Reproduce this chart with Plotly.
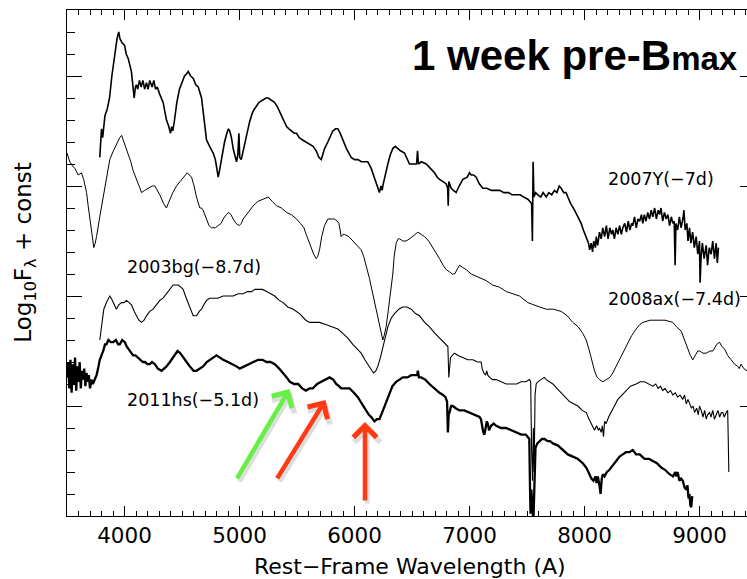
import plotly.graph_objects as go

# ---------------- data ----------------
wl_2007Y = [3785,3790,3800,3810,3830,3850,3870,3890,3913,3935,3950,3960,3980,4000,4015,4032,4060,4075,4084,4095,
            4104,4115,4130,4145,4160,4175,4191,4205,4220,4240,4255,4270,4285,4304,4320,4336,4350,4365,4385,4400,
            4410,4420,4435,4455,4478,4500,4522,4540,4554,4575,4597,4620,4641,4670,4690,4713,4740,4771,4790,4805,
            4815,4826,4850,4870,4890,4904,4915,4930,4945,4957,4974,4985,4995,5002,5015,5032,5060,5087,5110,5130,
            5170,5206,5230,5250,5280,5304,5330,5348,5380,5409,5430,5450,5475,5496,5520,5545,5574,5609,5640,5667,
            5690,5711,5725,5740,5768,5790,5811,5835,5855,5875,5898,5930,5971,6000,6029,6060,6090,6116,6145,6170,
            6189,6205,6217,6230,6240,6250,6270,6290,6310,6333,6355,6377,6400,6435,6455,6478,6510,6540,6548,6556,
            6580,6624,6660,6696,6720,6739,6770,6797,6810,6815,6820,6841,6860,6884,6910,6942,6980,7000,7015,7035,
            7058,7085,7116,7150,7190,7230,7261,7300,7340,7370,7406,7440,7470,7507,7525,7540,7547,7553,7560,7575,
            7594,7620,7640,7667,7690,7715,7739,7760,7780,7797,7820,7840,7855,7880,7913,7940,7971,7990,8015,8035,
            8045,8058,8070,8080,8095,8102,8115,8130,8145,8159,8175,8190,8205,8220,8235,8246,8260,8275,8290,8305,
            8320,8333,8350,8365,8380,8395,8410,8420,8435,8450,8465,8480,8495,8507,8520,8535,8550,8565,8580,8594,
            8610,8625,8640,8652,8665,8680,8695,8710,8725,8740,8755,8768,8780,8788,8795,8810,8825,8840,8855,8865,
            8875,8890,8900,8913,8925,8940,8955,8971,8985,9000,9005,9014,9025,9040,9058,9070,9085,9101,9115,9130,
            9145,9155,9165]
fl_2007Y = [1.63,1.70,1.76,1.72,1.82,1.85,1.90,2.00,2.10,2.17,2.20,2.17,2.15,2.14,2.10,2.08,2.02,1.96,1.90,1.95,
            1.96,1.94,1.98,1.95,1.98,1.94,1.97,1.94,1.98,1.95,1.98,1.94,1.95,1.92,1.90,1.88,1.84,1.80,1.77,1.74,
            1.77,1.75,1.80,1.88,1.94,1.97,2.00,2.01,2.02,2.00,1.99,1.96,1.95,1.90,1.80,1.71,1.68,1.65,1.62,1.58,
            1.54,1.57,1.65,1.70,1.74,1.76,1.75,1.72,1.67,1.64,1.61,1.64,1.74,1.63,1.62,1.66,1.73,1.79,1.83,1.85,
            1.88,1.89,1.90,1.90,1.89,1.88,1.86,1.84,1.80,1.77,1.76,1.75,1.74,1.74,1.72,1.71,1.70,1.69,1.68,1.66,
            1.63,1.62,1.65,1.67,1.70,1.73,1.75,1.76,1.76,1.74,1.71,1.67,1.63,1.62,1.62,1.61,1.61,1.61,1.58,1.54,
            1.51,1.49,1.47,1.50,1.48,1.51,1.56,1.60,1.64,1.67,1.68,1.67,1.66,1.65,1.63,1.60,1.60,1.60,1.66,1.60,
            1.61,1.60,1.58,1.56,1.54,1.53,1.52,1.51,1.49,1.41,1.52,1.49,1.48,1.47,1.50,1.53,1.54,1.56,1.55,1.55,
            1.54,1.51,1.49,1.49,1.48,1.48,1.48,1.47,1.47,1.46,1.46,1.46,1.45,1.44,1.43,1.42,1.25,1.61,1.45,1.47,
            1.46,1.45,1.47,1.45,1.47,1.46,1.48,1.47,1.50,1.49,1.47,1.47,1.45,1.42,1.39,1.36,1.33,1.30,1.27,1.24,
            1.21,1.24,1.20,1.25,1.22,1.27,1.23,1.29,1.26,1.31,1.27,1.32,1.26,1.31,1.28,1.30,1.26,1.31,1.28,1.32,
            1.28,1.31,1.33,1.29,1.34,1.30,1.33,1.32,1.36,1.31,1.35,1.34,1.37,1.33,1.37,1.34,1.38,1.35,1.39,1.36,
            1.40,1.35,1.39,1.37,1.40,1.34,1.38,1.35,1.37,1.32,1.36,1.33,1.34,1.14,1.33,1.30,1.36,1.31,1.35,1.39,
            1.30,1.33,1.25,1.31,1.24,1.29,1.22,1.27,1.19,1.25,1.06,1.18,1.24,1.17,1.23,1.14,1.22,1.19,1.25,1.17,
            1.24,1.15,1.22]

wl_2008ax = [3500,3524,3550,3568,3597,3626,3645,3655,3670,3684,3700,3713,3733,3745,3757,3785,3810,3829,3850,3872,
             3895,3916,3940,3959,3975,3988,4010,4032,4055,4075,4100,4119,4135,4148,4175,4206,4240,4264,4285,4307,
             4340,4365,4380,4394,4420,4452,4480,4510,4530,4545,4565,4583,4605,4626,4655,4670,4684,4700,4713,4735,
             4757,4790,4815,4840,4858,4885,4907,4925,4945,4970,4997,5015,5032,5075,5119,5160,5206,5250,5285,5322,
             5365,5409,5450,5496,5530,5560,5580,5600,5623,5645,5667,5680,5696,5715,5739,5768,5800,5826,5850,5864,
             5875,5884,5900,5913,5950,5985,6020,6058,6080,6101,6130,6159,6190,6217,6235,6246,6258,6275,6295,6319,
             6333,6345,6362,6380,6391,6420,6449,6480,6507,6530,6551,6580,6609,6645,6681,6710,6739,6770,6797,6826,
             6850,6870,6890,6913,6940,6971,7015,7058,7100,7145,7200,7261,7320,7377,7435,7507,7551,7610,7667,7730,
             7797,7850,7898,7945,7985,8015,8043,8065,8087,8110,8130,8160,8188,8220,8246,8275,8304,8340,8377,8410,
             8449,8480,8507,8570,8638,8700,8768,8800,8841,8870,8899,8920,8942,8965,8985,9000,9030,9058,9090,9116,
             9150,9174,9195,9217,9245,9275,9305,9333,9345,9362,9385,9413]
fl_2008ax = [1.65,1.61,1.59,1.58,1.55,1.56,1.53,1.51,1.47,1.41,1.34,1.29,1.22,1.24,1.27,1.36,1.44,1.50,1.57,1.62,
             1.65,1.67,1.70,1.72,1.73,1.71,1.68,1.65,1.61,1.57,1.53,1.51,1.49,1.47,1.48,1.49,1.50,1.50,1.48,1.46,
             1.42,1.40,1.42,1.44,1.47,1.50,1.52,1.54,1.55,1.56,1.55,1.54,1.50,1.45,1.40,1.40,1.39,1.37,1.35,1.32,
             1.31,1.31,1.32,1.33,1.35,1.37,1.38,1.37,1.35,1.33,1.32,1.33,1.35,1.38,1.41,1.43,1.44,1.45,1.43,1.41,
             1.40,1.38,1.37,1.35,1.33,1.31,1.28,1.25,1.22,1.19,1.17,1.18,1.21,1.27,1.32,1.35,1.35,1.35,1.34,1.33,
             1.30,1.27,1.28,1.28,1.27,1.25,1.23,1.21,1.18,1.14,1.08,1.01,0.93,0.86,0.82,0.80,0.82,0.86,0.94,1.03,
             1.10,1.18,1.24,1.26,1.26,1.25,1.25,1.26,1.27,1.28,1.29,1.28,1.27,1.25,1.22,1.20,1.17,1.14,1.12,1.11,
             1.10,1.10,1.12,1.14,1.13,1.12,1.10,1.09,1.08,1.07,1.05,1.04,1.02,1.01,1.00,0.97,0.96,0.95,0.94,0.94,
             0.93,0.91,0.88,0.86,0.83,0.80,0.75,0.70,0.66,0.63,0.62,0.61,0.62,0.63,0.65,0.68,0.71,0.75,0.79,0.82,
             0.85,0.87,0.88,0.89,0.89,0.89,0.88,0.86,0.84,0.80,0.76,0.73,0.71,0.73,0.75,0.75,0.74,0.74,0.75,0.75,
             0.78,0.79,0.77,0.76,0.73,0.71,0.69,0.68,0.67,0.69,0.67,0.66]

wl_2003bg = [3785,3795,3800,3810,3820,3843,3860,3872,3885,3902,3930,3950,3974,3995,4017,4040,4061,4085,4104,4125,
             4148,4170,4191,4220,4249,4280,4307,4335,4365,4395,4423,4445,4467,4490,4510,4530,4554,4575,4597,4615,
             4626,4650,4670,4690,4713,4740,4771,4810,4858,4900,4945,4990,5032,5070,5104,5135,5162,5200,5235,5270,
             5307,5345,5380,5420,5467,5522,5577,5609,5650,5696,5750,5811,5855,5898,5940,5985,6020,6058,6090,6116,
             6140,6165,6185,6203,6225,6246,6268,6290,6320,6348,6385,6420,6455,6493,6530,6565,6610,6652,6700,6739,
             6770,6797,6812,6820,6826,6835,6850,6870,6900,6942,6985,7029,7070,7101,7110,7125,7140,7150,7159,7175,
             7200,7232,7275,7319,7350,7377,7410,7449,7490,7522,7532,7540,7548,7555,7562,7570,7580,7594,7623,7650,
             7667,7695,7725,7760,7797,7835,7870,7905,7942,7980,8015,8040,8058,8075,8087,8105,8120,8130,8145,8155,
             8165,8175,8188,8210,8232,8260,8290,8325,8362,8400,8449,8485,8522,8560,8594,8620,8640,8660,8681,8700,
             8725,8748,8768,8790,8810,8830,8855,8870,8885,8900,8913,8930,8945,8957,8975,8990,9000,9015,9030,9045,
             9058,9070,9087,9100,9115,9130,9145,9160,9175,9190,9203,9215,9232,9245,9250,9255]
fl_2003bg = [0.80,0.84,0.86,0.91,0.94,0.97,0.99,1.00,0.99,0.97,0.94,0.96,0.97,0.97,0.98,0.97,0.96,0.93,0.91,0.89,
             0.88,0.89,0.91,0.93,0.94,0.96,0.98,0.99,1.01,1.03,1.05,1.05,1.05,1.04,1.03,1.00,0.97,0.94,0.91,0.91,
             0.91,0.93,0.94,0.96,0.98,0.99,0.99,0.99,1.00,1.00,1.00,1.01,1.01,1.02,1.02,1.03,1.03,1.03,1.02,1.01,
             1.00,0.98,0.97,0.95,0.94,0.92,0.89,0.88,0.88,0.88,0.87,0.86,0.85,0.83,0.81,0.78,0.76,0.74,0.71,0.69,
             0.67,0.65,0.66,0.68,0.72,0.77,0.82,0.86,0.90,0.92,0.94,0.95,0.95,0.94,0.92,0.91,0.88,0.86,0.83,0.81,
             0.79,0.78,0.77,0.63,0.68,0.72,0.73,0.74,0.73,0.72,0.71,0.71,0.70,0.70,0.67,0.65,0.64,0.66,0.64,0.63,
             0.62,0.62,0.61,0.60,0.60,0.60,0.60,0.61,0.61,0.62,0.61,0.30,0.16,0.40,0.20,0.55,0.60,0.61,0.62,0.63,
             0.62,0.61,0.60,0.58,0.56,0.54,0.52,0.51,0.50,0.48,0.47,0.44,0.42,0.40,0.39,0.41,0.39,0.40,0.38,0.41,
             0.36,0.43,0.42,0.45,0.47,0.50,0.53,0.55,0.57,0.59,0.60,0.61,0.61,0.60,0.59,0.60,0.58,0.59,0.57,0.58,
             0.56,0.57,0.55,0.56,0.54,0.55,0.53,0.55,0.51,0.53,0.51,0.49,0.50,0.47,0.49,0.46,0.50,0.48,0.45,0.48,
             0.44,0.46,0.47,0.45,0.48,0.44,0.46,0.48,0.45,0.47,0.47,0.45,0.47,0.48,0.35,0.20]

wl_2011hs = [3500,3510,3520,3530,3540,3550,3560,3570,3580,3590,3600,3610,3620,3630,3640,3650,3660,3670,3680,3690,
             3700,3713,3725,3740,3757,3770,3785,3800,3815,3830,3843,3860,3880,3902,3925,3945,3959,3980,4003,4020,
             4032,4050,4075,4095,4119,4140,4160,4177,4200,4220,4240,4264,4290,4322,4345,4365,4395,4423,4445,4461,
             4485,4510,4540,4568,4600,4626,4655,4684,4715,4742,4770,4800,4830,4858,4900,4945,4975,5002,5040,5075,
             5120,5162,5200,5235,5270,5307,5345,5380,5410,5438,5475,5510,5545,5577,5610,5638,5675,5711,5750,5783,
             5815,5841,5865,5884,5920,5957,5995,6029,6065,6101,6125,6145,6160,6174,6195,6217,6240,6261,6285,6304,
             6330,6362,6390,6420,6460,6493,6520,6545,6551,6560,6580,6615,6652,6695,6739,6770,6791,6805,6812,6820,
             6826,6840,6855,6880,6913,6955,7000,7040,7087,7100,7110,7120,7130,7140,7150,7159,7170,7188,7210,7232,
             7275,7319,7360,7406,7450,7490,7507,7520,7527,7531,7538,7545,7552,7557,7566,7574,7590,7609,7630,7652,
             7680,7700,7725,7770,7812,7855,7898,7940,7985,8015,8043,8060,8078,8095,8105,8116,8130,8140,8150,8160,
             8174,8195,8217,8245,8275,8305,8333,8360,8391,8420,8449,8480,8522,8560,8594,8630,8667,8700,8739,8770,
             8790,8797,8810,8825,8840,8855,8870,8884,8895,8905,8913,8920,8928,8937]
fl_2011hs = [0.63,0.70,0.58,0.71,0.56,0.69,0.60,0.72,0.57,0.68,0.61,0.70,0.58,0.66,0.62,0.67,0.59,0.65,0.61,0.64,
             0.58,0.62,0.60,0.62,0.64,0.67,0.71,0.73,0.75,0.78,0.78,0.80,0.79,0.79,0.80,0.78,0.78,0.80,0.79,0.77,
             0.76,0.75,0.73,0.73,0.72,0.71,0.70,0.70,0.69,0.69,0.70,0.69,0.67,0.66,0.67,0.68,0.70,0.72,0.74,0.75,
             0.74,0.72,0.70,0.68,0.66,0.66,0.67,0.68,0.70,0.71,0.72,0.73,0.72,0.71,0.70,0.69,0.68,0.67,0.68,0.69,
             0.70,0.71,0.71,0.70,0.70,0.69,0.67,0.65,0.63,0.61,0.60,0.60,0.58,0.57,0.58,0.58,0.60,0.61,0.62,0.63,
             0.62,0.60,0.59,0.58,0.58,0.58,0.56,0.54,0.51,0.48,0.46,0.45,0.44,0.43,0.44,0.44,0.47,0.50,0.53,0.56,
             0.59,0.61,0.62,0.63,0.63,0.64,0.64,0.64,0.66,0.63,0.63,0.62,0.60,0.58,0.56,0.55,0.54,0.52,0.38,0.47,
             0.47,0.50,0.50,0.49,0.48,0.48,0.47,0.46,0.45,0.44,0.41,0.38,0.37,0.41,0.43,0.42,0.39,0.41,0.42,0.41,
             0.40,0.40,0.39,0.38,0.37,0.37,0.36,0.35,0.10,0.01,0.12,0.03,0.00,0.00,0.20,0.31,0.33,0.34,0.35,0.35,
             0.34,0.34,0.33,0.32,0.30,0.28,0.27,0.26,0.24,0.22,0.19,0.17,0.16,0.18,0.15,0.18,0.14,0.10,0.17,0.19,
             0.18,0.20,0.21,0.23,0.25,0.27,0.28,0.29,0.29,0.30,0.28,0.28,0.26,0.26,0.25,0.24,0.22,0.21,0.19,0.18,
             0.20,0.18,0.20,0.16,0.17,0.16,0.13,0.12,0.14,0.08,0.10,0.05,0.04,0.09]

label_text = ["2007Y(\u22127d)", "2008ax(\u22127.4d)", "2003bg(\u22128.7d)", "2011hs(\u22125.1d)"]
label_x = [8190, 8190, 4005, 4005]
label_y = [1.53, 0.985, 1.13, 0.527]

x_tick_vals = [4000, 5000, 6000, 7000, 8000, 9000]

# ---------------- figure ----------------
fig = go.Figure()
series = [(wl_2007Y, fl_2007Y, 1.6), (wl_2008ax, fl_2008ax, 1.0),
          (wl_2003bg, fl_2003bg, 1.1), (wl_2011hs, fl_2011hs, 2.3)]
for wl, fl, w in series:
    fig.add_trace(go.Scatter(x=wl, y=fl, mode="lines", line=dict(color="black", width=w),
                             showlegend=False, hoverinfo="skip"))
# helper trace so that the right-hand tick axis is drawn
fig.add_trace(go.Scatter(x=[None], y=[None], yaxis="y2", showlegend=False, hoverinfo="skip"))

tickfont = dict(family="DejaVu Sans", size=21.5, color="black")
fig.update_layout(
    width=747, height=579,
    margin=dict(l=67, r=0, t=10, b=63),
    plot_bgcolor="white", paper_bgcolor="white",
    xaxis=dict(range=[3500, 9413], tickvals=x_tick_vals, ticks="inside", ticklen=10, tickwidth=1,
               tickcolor="black", showline=True, linecolor="black", linewidth=1.2, mirror="ticks",
               showgrid=False, zeroline=False, tickfont=tickfont,
               minor=dict(dtick=100, tick0=0, ticks="inside", ticklen=5, tickcolor="black", tickwidth=1)),
    yaxis=dict(range=[0, 2.3], dtick=0.5, tick0=0, ticks="inside", ticklen=15, tickwidth=1,
               tickcolor="black", showline=True, linecolor="black", linewidth=1.2,
               showticklabels=False, showgrid=False, zeroline=False,
               minor=dict(dtick=0.1, tick0=0, ticks="inside", ticklen=8, tickcolor="black", tickwidth=1)),
    yaxis2=dict(range=[0, 2.3], dtick=0.5, tick0=0, overlaying="y", side="right", ticks="inside",
                ticklen=7, tickwidth=1, tickcolor="black", showline=False, showticklabels=False,
                showgrid=False, zeroline=False),
)

ann = []
# axis titles
ann.append(dict(text="Rest\u2212Frame Wavelength (A)", xref="paper", yref="paper", x=0.504, y=-0.099,
                xanchor="center", yanchor="middle", showarrow=False,
                font=dict(family="DejaVu Sans", size=22, color="black")))
ann.append(dict(text="Log<sub>10</sub>F<sub>\u03bb</sub> + const", xref="paper", yref="paper",
                x=-0.062, y=0.522, xanchor="center", yanchor="middle", textangle=-90, showarrow=False,
                font=dict(family="DejaVu Sans", size=23, color="black")))
# panel title
ann.append(dict(text="<b>1 week pre-B<span style='font-size:33px'>max</span></b>", xref="paper", yref="paper",
                x=0.99, y=0.911, xanchor="right", yanchor="middle", showarrow=False,
                font=dict(family="Liberation Sans", size=42, color="black")))
# spectrum labels
for t, lx, ly in zip(label_text, label_x, label_y):
    ann.append(dict(text=t, x=lx, y=ly, xref="x", yref="y", xanchor="left", yanchor="middle",
                    showarrow=False, font=dict(family="DejaVu Sans", size=17.5, color="black")))
# arrows (head, tail, colour)
arrows = [(5435, 0.577, 4971, 0.164, "#66f043"),
          (5748, 0.527, 5319, 0.164, "#ff3a12"),
          (6091, 0.427, 6091, 0.064, "#ff3a12")]
for hx, hy, tx, ty, col in arrows:
    ann.append(dict(x=hx + 20, y=hy - 0.014, ax=tx + 20, ay=ty - 0.014, xref="x", yref="y", axref="x", ayref="y",
                    text="", showarrow=True, arrowhead=4, arrowsize=1.0, arrowwidth=5,
                    arrowcolor="rgba(0,0,0,0.13)"))
for hx, hy, tx, ty, col in arrows:
    ann.append(dict(x=hx, y=hy, ax=tx, ay=ty, xref="x", yref="y", axref="x", ayref="y",
                    text="", showarrow=True, arrowhead=4, arrowsize=1.0, arrowwidth=4.5, arrowcolor=col))
fig.update_layout(annotations=ann)

fig.write_html("out.html")
